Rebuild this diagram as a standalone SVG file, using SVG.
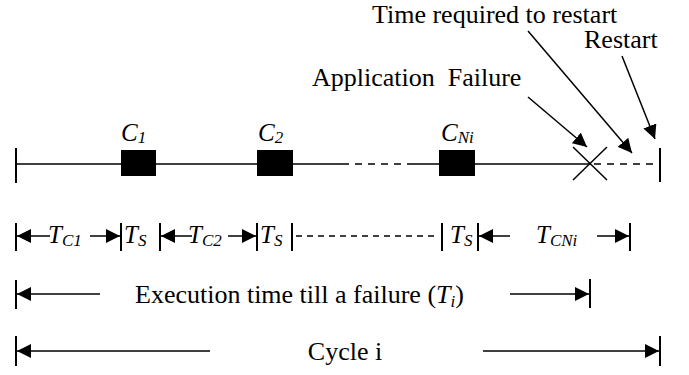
<svg xmlns="http://www.w3.org/2000/svg" width="689" height="375" viewBox="0 0 689 375">
<style>
.ln{stroke:#000;stroke-width:1.5;fill:none}
.tk{stroke:#000;stroke-width:2;fill:none}
.ds{stroke:#000;stroke-width:1.5;fill:none;stroke-dasharray:7 6}
.t{font-family:"Liberation Serif","Times New Roman",serif;font-size:26px;fill:#000}
.i{font-family:"Liberation Serif","Times New Roman",serif;font-style:italic;fill:#000}
.box{fill:#000}
</style>
<defs>
<marker id="ah" viewBox="0 0 14 14" refX="14" refY="7" markerWidth="14" markerHeight="14" markerUnits="userSpaceOnUse" orient="auto">
<path d="M0,0 L14,7 L0,14 Z" fill="#000"/>
</marker>
</defs>
<g id="labels">
<text class="t" x="372" y="23">Time required to restart</text>
<text class="t" x="584" y="48">Restart</text>
<text class="t" x="312" y="86" style="white-space:pre">Application  Failure</text>
</g>
<g id="timeline">
<line class="tk" x1="16" y1="148" x2="16" y2="183"/>
<line class="tk" x1="660" y1="148" x2="660" y2="182"/>
<line class="ln" x1="16" y1="164" x2="342" y2="164"/>
<line class="ds" x1="342" y1="164" x2="412" y2="164"/>
<line class="ln" x1="412" y1="164" x2="590" y2="164"/>
<line class="ds" x1="594" y1="164" x2="660" y2="164"/>
</g>
<g id="c1"><rect class="box" x="121" y="150" width="35" height="26"/><text class="i" x="121" y="141" font-size="25">C<tspan font-size="17" dy="2">1</tspan></text></g>
<g id="c2"><rect class="box" x="257" y="150" width="36" height="26"/><text class="i" x="258" y="141" font-size="25">C<tspan font-size="17" dy="2">2</tspan></text></g>
<g id="cni"><rect class="box" x="439" y="150" width="36" height="26"/><text class="i" x="441" y="141" font-size="25">C<tspan font-size="17" dy="2">Ni</tspan></text></g>
<g id="failure">
<line class="ln" x1="573" y1="147" x2="607" y2="180"/>
<line class="ln" x1="607" y1="147" x2="573" y2="180"/>
</g>
<g id="connectors">
<line class="ln" x1="528" y1="97" x2="587" y2="147" marker-end="url(#ah)"/>
<line class="ln" x1="528" y1="31" x2="632" y2="153" marker-end="url(#ah)"/>
<line class="ln" x1="622" y1="56" x2="655" y2="139" marker-end="url(#ah)"/>
</g>
<g id="segments">
<line class="tk" x1="16" y1="223" x2="16" y2="251"/>
<line class="tk" x1="121" y1="223" x2="121" y2="251"/>
<line class="tk" x1="160" y1="223" x2="160" y2="251"/>
<line class="tk" x1="257" y1="223" x2="257" y2="251"/>
<line class="tk" x1="292" y1="223" x2="292" y2="251"/>
<line class="tk" x1="442" y1="223" x2="442" y2="251"/>
<line class="tk" x1="478" y1="223" x2="478" y2="251"/>
<line class="tk" x1="630" y1="223" x2="630" y2="251"/>
<line class="ln" x1="50" y1="236" x2="17" y2="236" marker-end="url(#ah)"/>
<line class="ln" x1="90" y1="236" x2="120" y2="236" marker-end="url(#ah)"/>
<line class="ln" x1="192" y1="236" x2="161" y2="236" marker-end="url(#ah)"/>
<line class="ln" x1="228" y1="236" x2="256" y2="236" marker-end="url(#ah)"/>
<line class="ds" x1="296" y1="236" x2="438" y2="236" style="stroke-dasharray:6 5"/>
<line class="ln" x1="510" y1="236" x2="479" y2="236" marker-end="url(#ah)"/>
<line class="ln" x1="597" y1="236" x2="629" y2="236" marker-end="url(#ah)"/>
<text class="i" x="48" y="243" font-size="25">T<tspan font-size="17" dy="3">C1</tspan></text>
<text class="i" x="124" y="243" font-size="25">T<tspan font-size="17" dy="3">S</tspan></text>
<text class="i" x="188" y="243" font-size="25">T<tspan font-size="17" dy="3">C2</tspan></text>
<text class="i" x="260" y="243" font-size="25">T<tspan font-size="17" dy="3">S</tspan></text>
<text class="i" x="450" y="243" font-size="25">T<tspan font-size="17" dy="3">S</tspan></text>
<text class="i" x="536" y="243" font-size="25">T<tspan font-size="17" dy="3">CNi</tspan></text>
</g>
<g id="execution">
<line class="tk" x1="16" y1="280" x2="16" y2="309"/>
<line class="tk" x1="590" y1="279" x2="590" y2="308"/>
<line class="ln" x1="100" y1="294" x2="17" y2="294" marker-end="url(#ah)"/>
<line class="ln" x1="510" y1="294" x2="589" y2="294" marker-end="url(#ah)"/>
<text class="t" x="135" y="303">Execution time till a failure (<tspan class="i">T</tspan><tspan class="i" font-size="17" dy="4">i</tspan><tspan dy="-4">)</tspan></text>
</g>
<g id="cycle">
<line class="tk" x1="16" y1="336" x2="16" y2="366"/>
<line class="tk" x1="660" y1="336" x2="660" y2="366"/>
<line class="ln" x1="210" y1="351" x2="17" y2="351" marker-end="url(#ah)"/>
<line class="ln" x1="483" y1="351" x2="659" y2="351" marker-end="url(#ah)"/>
<text class="t" x="345" y="360" text-anchor="middle">Cycle i</text>
</g>
</svg>
